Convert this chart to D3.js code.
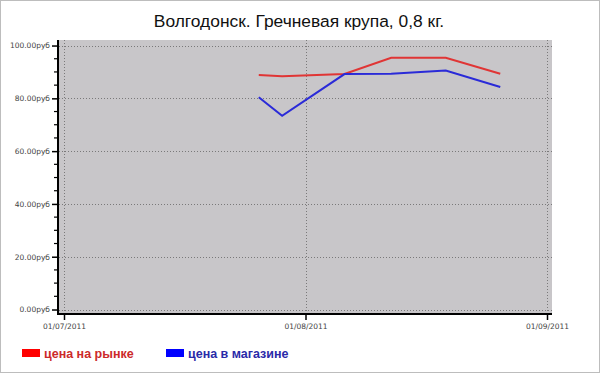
<!DOCTYPE html>
<html>
<head>
<meta charset="utf-8">
<script src="https://cdn.jsdelivr.net/npm/d3@7"></script>
<style>
  body { margin: 0; background: #fff; }
  svg { display: block; }
</style>
</head>
<body>
<svg id="chart"></svg>
<script>
const _WIDTH = 600
const _HEIGHT = 374

// Data
const dates = ["2011-07-26", "2011-07-29", "2011-08-06", "2011-08-12", "2011-08-19", "2011-08-26"]
const marketPrices = [88.8, 88.4, 89.2, 95.4, 95.4, 89.3]
const shopPrices = [80.4, 73.4, 89.2, 89.3, 90.5, 84.3]
const xTickDates = ["2011-07-01", "2011-08-01", "2011-09-01"]
const yTickValues = [0, 20, 40, 60, 80, 100]
const seriesNames = ["цена на рынке", "цена в магазине"]

const parse = d3.timeParse("%Y-%m-%d")
const fmt = d3.timeFormat("%d/%m/%Y")

const svg = d3.select("#chart")
    .attr("width", _WIDTH)
    .attr("height", _HEIGHT)

// outer frame
svg.append("rect")
    .attr("x", 0.5).attr("y", 0.5)
    .attr("width", _WIDTH - 1).attr("height", _HEIGHT - 2)
    .attr("fill", "#fff")
    .attr("stroke", "#bdbdbd")

const xScale = d3.scaleTime()
    .domain([new Date(2011, 5, 30, 8, 36), new Date(2011, 8, 1, 15, 24)])
    .range([59, 552])
const yScale = d3.scaleLinear()
    .domain([-1.7, 102.1])
    .range([314, 40])

// plot background
svg.append("rect")
    .attr("x", xScale.range()[0]).attr("y", yScale.range()[1])
    .attr("width", xScale.range()[1] - xScale.range()[0])
    .attr("height", yScale.range()[0] - yScale.range()[1])
    .attr("fill", "#c8c6c9")

// grid
const grid = svg.append("g")
    .attr("stroke", "#666")
    .attr("stroke-width", 0.8)
    .attr("stroke-dasharray", "1,2")
grid.selectAll("line.h")
    .data(yTickValues)
    .join("line")
    .attr("class", "h")
    .attr("x1", xScale.range()[0]).attr("x2", xScale.range()[1])
    .attr("y1", d => Math.round(yScale(d)) + 0.5)
    .attr("y2", d => Math.round(yScale(d)) + 0.5)
grid.selectAll("line.v")
    .data(xTickDates.map(parse))
    .join("line")
    .attr("class", "v")
    .attr("y1", yScale.range()[0]).attr("y2", yScale.range()[1])
    .attr("x1", d => Math.round(xScale(d)) + 0.5)
    .attr("x2", d => Math.round(xScale(d)) + 0.5)

// series
const line = d3.line()
    .x((d, i) => xScale(parse(dates[i])))
    .y(d => yScale(d))

svg.append("path")
    .datum(marketPrices)
    .attr("fill", "none")
    .attr("stroke", "#e03535")
    .attr("stroke-width", 2)
    .attr("d", line)

svg.append("path")
    .datum(shopPrices)
    .attr("fill", "none")
    .attr("stroke", "#2a2ad8")
    .attr("stroke-width", 2)
    .attr("d", line)

// y axis
const yAxis = svg.append("g")
    .attr("transform", "translate(58,0)")
    .call(d3.axisLeft(yScale)
        .tickValues(yTickValues)
        .tickSize(6)
        .tickPadding(2)
        .tickFormat(d => d3.format(".2f")(d) + "руб"))
yAxis.select(".domain").remove()
yAxis.selectAll(".tick line").attr("stroke", "#000").attr("stroke-width", 1.5)
yAxis.selectAll("text")
    .attr("font-family", "DejaVu Sans")
    .attr("font-size", 7.5)
    .attr("fill", "#444")

// minor y ticks
svg.append("g")
    .selectAll("line")
    .data(d3.range(5, 100, 5).filter(v => v % 20 !== 0))
    .join("line")
    .attr("x1", 54).attr("x2", 58)
    .attr("y1", d => yScale(d)).attr("y2", d => yScale(d))
    .attr("stroke", "#000")
    .attr("stroke-width", 1.2)

// x axis
const xAxis = svg.append("g")
    .attr("transform", "translate(0,314)")
    .call(d3.axisBottom(xScale)
        .tickValues(xTickDates.map(parse))
        .tickSize(6)
        .tickPadding(4)
        .tickFormat(fmt))
xAxis.select(".domain").remove()
xAxis.selectAll(".tick line").attr("stroke", "#000").attr("stroke-width", 1.5)
xAxis.selectAll("text")
    .attr("font-family", "DejaVu Sans")
    .attr("font-size", 7.5)
    .attr("fill", "#444")

// axis lines
svg.append("line")
    .attr("x1", 58).attr("x2", 58)
    .attr("y1", yScale.range()[1]).attr("y2", 315)
    .attr("stroke", "#000").attr("stroke-width", 2)
svg.append("line")
    .attr("x1", 57).attr("x2", xScale.range()[1])
    .attr("y1", 314).attr("y2", 314)
    .attr("stroke", "#000").attr("stroke-width", 2)

// title
svg.append("text")
    .attr("x", 299).attr("y", 27)
    .attr("text-anchor", "middle")
    .attr("font-family", "Liberation Sans, Arial")
    .attr("font-size", 17.4)
    .attr("fill", "#111")
    .text("Волгодонск. Гречневая крупа, 0,8 кг.")

// legend
const legend = [
    { name: seriesNames[0], box: "#ff0000", text: "#cc2a2a", x: 22 },
    { name: seriesNames[1], box: "#0000ff", text: "#2a2aa8", x: 166 },
]
const lg = svg.append("g")
    .selectAll("g")
    .data(legend)
    .join("g")
    .attr("transform", d => `translate(${d.x},349)`)
lg.append("rect")
    .attr("width", 18).attr("height", 8)
    .attr("fill", d => d.box)
lg.append("text")
    .attr("x", 22).attr("y", 8.5)
    .attr("font-family", "Liberation Sans, Arial")
    .attr("font-size", 12.5)
    .attr("font-weight", "bold")
    .attr("fill", d => d.text)
    .text(d => d.name)
</script>
</body>
</html>
